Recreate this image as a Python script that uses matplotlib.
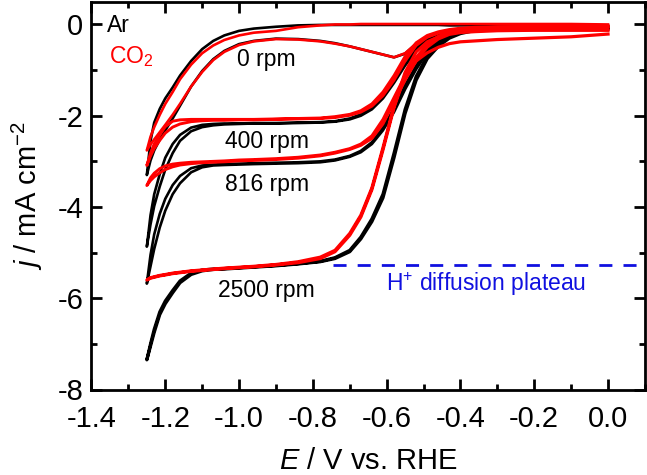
import matplotlib
matplotlib.use("Agg")
import matplotlib.pyplot as plt
import numpy as np

plt.rcParams['font.family'] = ['Liberation Sans', 'DejaVu Sans']
plt.rcParams['mathtext.fontset'] = 'custom'
plt.rcParams['mathtext.rm'] = 'Liberation Sans'
plt.rcParams['mathtext.it'] = 'Liberation Sans:italic'
plt.rcParams['axes.unicode_minus'] = False

# potential grid (V vs. RHE), shared by all sweeps
E = [0.00, -0.10, -0.20, -0.30, -0.36, -0.40, -0.43, -0.46, -0.49, -0.52,
     -0.55, -0.58, -0.61, -0.64, -0.67, -0.70, -0.74, -0.78, -0.84, -0.90,
     -0.96, -1.00, -1.04, -1.07, -1.10, -1.13, -1.16, -1.18, -1.20, -1.215,
     -1.23, -1.24, -1.25]

# Ar (black): cathodic (fwd) and anodic (rev) sweeps, mA cm-2
ar_0_fwd = [-0.08, -0.08, -0.08, -0.08, -0.09, -0.10, -0.13, -0.19, -0.27, -0.42,
            -0.64, -0.72, -0.66, -0.60, -0.54, -0.48, -0.41, -0.36, -0.32, -0.31,
            -0.36, -0.43, -0.58, -0.76, -1.02, -1.36, -1.78, -2.06, -2.32, -2.52,
            -2.76, -2.98, -3.30]
ar_0_rev = [-0.03, -0.03, -0.03, -0.02, -0.02, -0.02, -0.02, -0.01, -0.01, -0.01,
            -0.01, -0.01, -0.01, -0.01, -0.01, -0.01, -0.01, -0.01, -0.02, -0.05,
            -0.09, -0.14, -0.24, -0.36, -0.54, -0.80, -1.12, -1.38, -1.62, -1.85,
            -2.15, -2.55, -3.30]
ar_400_fwd = [-0.10, -0.10, -0.10, -0.11, -0.12, -0.14, -0.17, -0.24, -0.36, -0.58,
              -0.90, -1.28, -1.62, -1.86, -2.00, -2.08, -2.13, -2.15, -2.16, -2.17,
              -2.17, -2.18, -2.19, -2.21, -2.25, -2.34, -2.55, -2.82, -3.18, -3.55,
              -3.98, -4.38, -4.87]
ar_400_rev = [-0.06, -0.06, -0.07, -0.08, -0.09, -0.11, -0.14, -0.20, -0.31, -0.50,
              -0.80, -1.18, -1.54, -1.80, -1.97, -2.06, -2.12, -2.14, -2.15, -2.16,
              -2.16, -2.17, -2.17, -2.18, -2.20, -2.26, -2.42, -2.62, -2.92, -3.28,
              -3.72, -4.18, -4.87]
ar_816_fwd = [-0.10, -0.10, -0.11, -0.12, -0.14, -0.18, -0.24, -0.38, -0.62, -0.98,
              -1.42, -1.92, -2.32, -2.62, -2.80, -2.90, -2.98, -3.02, -3.04, -3.05,
              -3.06, -3.07, -3.08, -3.09, -3.13, -3.24, -3.48, -3.72, -4.08, -4.45,
              -4.92, -5.30, -5.68]
ar_816_rev = [-0.07, -0.07, -0.08, -0.09, -0.11, -0.15, -0.21, -0.33, -0.55, -0.90,
              -1.33, -1.84, -2.26, -2.58, -2.77, -2.88, -2.96, -3.00, -3.02, -3.03,
              -3.04, -3.05, -3.06, -3.07, -3.09, -3.15, -3.32, -3.52, -3.82, -4.15,
              -4.60, -5.05, -5.68]
ar_2500_fwd = [-0.08, -0.08, -0.09, -0.10, -0.13, -0.20, -0.30, -0.48, -0.75, -1.22,
               -1.95, -2.92, -3.80, -4.32, -4.70, -4.98, -5.13, -5.20, -5.25, -5.29,
               -5.32, -5.34, -5.36, -5.37, -5.40, -5.48, -5.66, -5.88, -6.12, -6.36,
               -6.75, -7.05, -7.35]
ar_2500_rev = [-0.06, -0.06, -0.07, -0.08, -0.11, -0.17, -0.26, -0.43, -0.69, -1.14,
               -1.86, -2.82, -3.72, -4.26, -4.66, -4.95, -5.11, -5.19, -5.24, -5.28,
               -5.31, -5.33, -5.35, -5.36, -5.38, -5.45, -5.62, -5.83, -6.06, -6.30,
               -6.68, -7.00, -7.35]

# CO2 (red)
co2_0_fwd = [-0.10, -0.10, -0.10, -0.10, -0.11, -0.12, -0.14, -0.19, -0.27, -0.42,
             -0.63, -0.72, -0.66, -0.60, -0.54, -0.48, -0.42, -0.37, -0.33, -0.32,
             -0.37, -0.45, -0.60, -0.78, -1.04, -1.36, -1.74, -1.98, -2.20, -2.36,
             -2.52, -2.63, -2.76]
co2_0_rev = [0.00, 0.01, 0.01, 0.01, 0.01, 0.01, 0.01, 0.01, 0.01, 0.01,
             0.01, 0.01, 0.01, 0.01, 0.01, 0.00, 0.00, -0.02, -0.06, -0.14,
             -0.18, -0.24, -0.34, -0.46, -0.63, -0.88, -1.20, -1.48, -1.74, -1.98,
             -2.25, -2.46, -2.76]
co2_400_fwd = [-0.12, -0.12, -0.12, -0.12, -0.13, -0.13, -0.14, -0.19, -0.28, -0.46,
               -0.80, -1.22, -1.56, -1.79, -1.92, -1.99, -2.04, -2.06, -2.07, -2.08,
               -2.09, -2.09, -2.10, -2.10, -2.11, -2.13, -2.18, -2.25, -2.38, -2.54,
               -2.72, -2.88, -3.09]
co2_400_rev = [-0.04, -0.04, -0.04, -0.05, -0.06, -0.08, -0.11, -0.16, -0.24, -0.40,
               -0.70, -1.12, -1.48, -1.74, -1.89, -1.97, -2.02, -2.05, -2.06, -2.07,
               -2.08, -2.08, -2.08, -2.08, -2.08, -2.08, -2.09, -2.12, -2.24, -2.42,
               -2.62, -2.82, -3.09]
co2_816_fwd = [-0.13, -0.13, -0.13, -0.14, -0.16, -0.18, -0.22, -0.32, -0.50, -0.80,
               -1.22, -1.70, -2.18, -2.50, -2.65, -2.74, -2.82, -2.88, -2.93, -2.96,
               -2.98, -2.99, -3.01, -3.02, -3.03, -3.05, -3.08, -3.12, -3.18, -3.25,
               -3.34, -3.42, -3.53]
co2_816_rev = [-0.05, -0.05, -0.05, -0.06, -0.08, -0.11, -0.16, -0.26, -0.43, -0.72,
               -1.12, -1.60, -2.08, -2.44, -2.62, -2.72, -2.80, -2.86, -2.91, -2.94,
               -2.96, -2.97, -2.99, -3.00, -3.01, -3.02, -3.04, -3.06, -3.10, -3.16,
               -3.26, -3.36, -3.53]
co2_2500_fwd = [-0.21, -0.27, -0.30, -0.33, -0.36, -0.38, -0.42, -0.50, -0.62, -0.80,
                -1.12, -1.82, -2.75, -3.62, -4.22, -4.62, -4.98, -5.13, -5.22, -5.27,
                -5.31, -5.33, -5.35, -5.37, -5.39, -5.41, -5.44, -5.46, -5.49, -5.51,
                -5.54, -5.56, -5.60]
co2_2500_rev = [-0.04, -0.05, -0.05, -0.06, -0.08, -0.12, -0.18, -0.27, -0.38, -0.60,
                -1.05, -1.78, -2.70, -3.58, -4.18, -4.58, -4.95, -5.10, -5.20, -5.26,
                -5.30, -5.32, -5.34, -5.36, -5.38, -5.40, -5.43, -5.45, -5.48, -5.50,
                -5.53, -5.55, -5.60]

# H+ diffusion plateau marker
plateau_E = [-0.745, 0.10]
plateau_j = [-5.28, -5.28]

rpm_labels = ['0 rpm', '400 rpm', '816 rpm', '2500 rpm']
rpm_label_j = [-0.90, -2.70, -3.66, -5.98]

ar_curves = [(ar_0_fwd, ar_0_rev, 1.9), (ar_400_fwd, ar_400_rev, 1.9),
             (ar_816_fwd, ar_816_rev, 1.9), (ar_2500_fwd, ar_2500_rev, 2.3)]
co2_curves = [(co2_0_fwd, co2_0_rev, 1.9), (co2_400_fwd, co2_400_rev, 2.1),
              (co2_816_fwd, co2_816_rev, 2.1), (co2_2500_fwd, co2_2500_rev, 2.3)]


def loop(fwd, rev):
    """ Joins the cathodic and anodic sweep into one closed CV. """
    e = np.concatenate([E, E[::-1]])
    j = np.concatenate([fwd, rev[::-1]])
    return e, j


fig = plt.figure(figsize=(6.47, 4.75), dpi=100)
ax = fig.add_axes([0.1414, 0.180, 0.8554, 0.8165])

for fwd, rev, lw in ar_curves:
    e, j = loop(fwd, rev)
    ax.plot(e, j, color='black', lw=lw, solid_joinstyle='round')
for fwd, rev, lw in co2_curves:
    e, j = loop(fwd, rev)
    ax.plot(e, j, color='#ff0000', lw=lw, solid_joinstyle='round')

ax.plot(plateau_E, plateau_j, color='#1010e0', lw=2.0, dashes=(4.7, 4.0))
ax.text(-0.33, -5.84, 'H$^{+}$ diffusion plateau', color='#1010e0',
        fontsize=16.5, ha='center', va='baseline')

for label, jl in zip(rpm_labels, rpm_label_j):
    ax.text(-0.925, jl, label, fontsize=16.5, ha='center', va='baseline')

ax.text(-1.357, -0.16, 'Ar', fontsize=16.5, color='black', va='baseline')
ax.text(-1.352, -0.84, 'CO$_2$', fontsize=16.5, color='#ff0000', va='baseline')

ax.set_xlim(-1.4, 0.1)
ax.set_ylim(-8, 0.5)
ax.set_xticks([-1.4, -1.2, -1.0, -0.8, -0.6, -0.4, -0.2, 0.0])
ax.set_xticklabels(['-1.4', '-1.2', '-1.0', '-0.8', '-0.6', '-0.4', '-0.2', '0.0'])
ax.set_xticks(np.arange(-1.4, 0.11, 0.1), minor=True)
ax.set_yticks([-8, -6, -4, -2, 0])
ax.set_yticks(range(-8, 1), minor=True)
ax.tick_params(which='both', direction='in', top=True, right=True, width=2.0,
               labelsize=21)
ax.tick_params(which='major', length=8)
ax.tick_params(which='minor', length=4.5)
ax.tick_params(axis='x', pad=11)
ax.tick_params(axis='y', pad=6)
for s in ax.spines.values():
    s.set_linewidth(2.0)

ax.set_xlabel('$E$ / V vs. RHE', fontsize=21, labelpad=10)
ax.set_ylabel('$j$ / mA cm$^{-2}$', fontsize=21, labelpad=9)

fig.savefig('out.png', dpi=100)
